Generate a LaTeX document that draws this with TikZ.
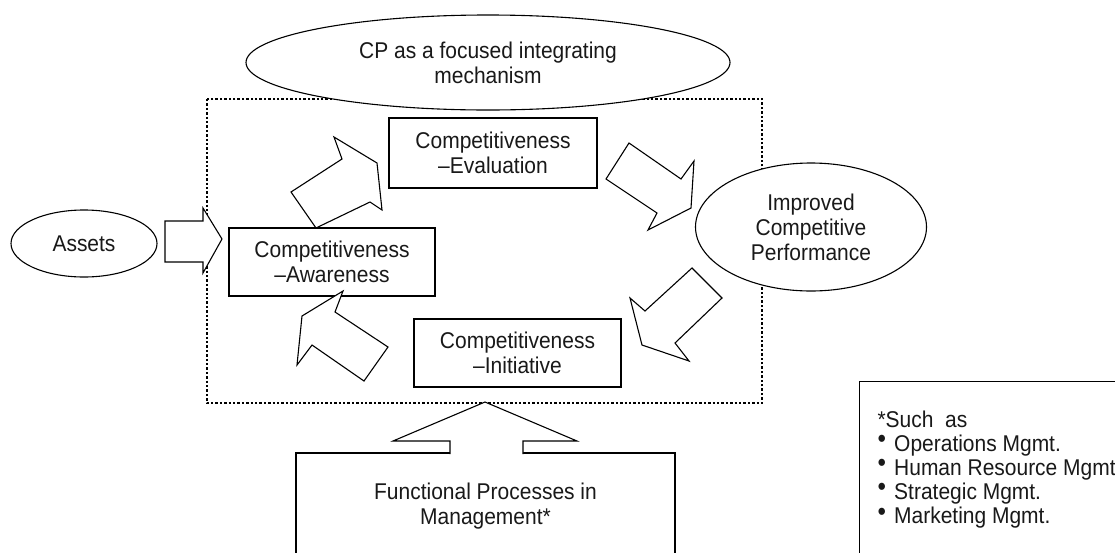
\documentclass[tikz,border=0pt]{standalone}
\usepackage{fontspec}
\setmainfont{Liberation Sans}[FakeStretch=0.92]
\usetikzlibrary{shapes.geometric}

\newcommand\legendbullet{\raisebox{0.32ex}{\scalebox{1.15}{\textbullet}}\hspace{0.36em}}

\begin{document}
\begin{tikzpicture}[x=1pt,y=-1pt,
  line width=1.1pt,
  lbl/.style={font=\fontsize{22.8}{25}\selectfont, align=center, text=black!90},
  lowered/.style={execute at begin node={\rule{0pt}{22.6pt}}},
  framebox/.style={draw, fill=white, rectangle, inner sep=0pt, lbl},
  oval/.style={draw, fill=white, ellipse, inner sep=0pt, lbl},
  blockarrow/.style={draw, fill=white, line join=miter},
  scopeframe/.style={draw, line width=2.5pt, dash pattern=on 2.4pt off 2.0pt}]

\useasboundingbox (0,0) rectangle (1115,552);
\clip (0,0) rectangle (1115,552);

% dotted boundary of the integrating mechanism
\draw[scopeframe] (207,99) rectangle (762,403);

% ellipses
\node[oval, lowered, minimum width=484pt, minimum height=95pt] (cp) at (488,62.5)
  {CP as a focused integrating\\mechanism};
\node[oval, lowered, minimum width=231pt, minimum height=128pt] (perf) at (811,227)
  {Improved\\Competitive\\Performance};
\node[oval, minimum width=146pt, minimum height=67pt] (assets) at (84,243.5)
  {Assets};

% the three competitiveness stages
\node[framebox, lowered, minimum width=208pt, minimum height=70pt] (eval) at (493,153)
  {Competitiveness\\--Evaluation};
\node[framebox, lowered, minimum width=206pt, minimum height=68pt] (aware) at (332,262)
  {Competitiveness\\--Awareness};
\node[framebox, lowered, minimum width=207pt, minimum height=68pt] (init) at (517.5,353)
  {Competitiveness\\--Initiative};

% functional processes
\node[framebox, lowered, minimum width=379pt, minimum height=106pt] (func) at (485.5,506)
  {Functional Processes in\\Management*};

% legend
\node[draw, fill=white, rectangle, anchor=north west,
      minimum width=400pt, minimum height=250pt] (legend) at (859,381) {};
\node[anchor=north west, inner sep=0pt, align=left,
      font=\fontsize{22.8}{24.2}\selectfont, text=black!90] (legendtext) at (877,410)
  {*Such\ \ as\\
   \legendbullet Operations Mgmt.\\
   \legendbullet Human Resource Mgmt.\\
   \legendbullet Strategic Mgmt.\\
   \legendbullet Marketing Mgmt.};

% block arrows around the cycle
\filldraw[blockarrow] (165,221) -- (203,221) -- (203,208) -- (222,239)
  -- (203,273) -- (203,262) -- (165,262) -- cycle;
\filldraw[blockarrow] (316,228) -- (291,192) -- (342,159) -- (334,137)
  -- (377,163) -- (382,210) -- (370,202) -- cycle;
\filldraw[blockarrow] (629,143) -- (681,179) -- (694,161) -- (691,208)
  -- (648,230) -- (657,213) -- (606,179) -- cycle;
\filldraw[blockarrow] (692,268) -- (722,298) -- (675,343) -- (689,361)
  -- (642,345) -- (630,298) -- (645,311) -- cycle;
\filldraw[blockarrow] (343,291) -- (302,316) -- (297,365) -- (312,345)
  -- (364,381) -- (388,347) -- (335,312) -- cycle;

% upward arrow from the functional processes
\filldraw[blockarrow] (450,454.2) -- (450,441) -- (393,441) -- (485,402)
  -- (577,441) -- (523,441) -- (523,454.2);

\end{tikzpicture}
\end{document}
